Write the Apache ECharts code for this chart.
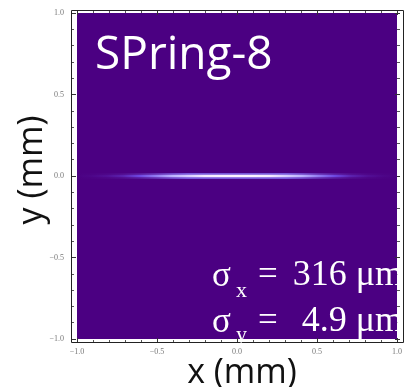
<!DOCTYPE html>
<html>
<head>
<meta charset="utf-8">
<script src="https://cdn.jsdelivr.net/npm/echarts@6/dist/echarts.min.js"></script>
<style>
  html, body { margin: 0; padding: 0; background: #fff; }
  #chart { width: 405px; height: 387px; }
</style>
</head>
<body>
<div id="chart"></div>
<script>
// beam profile along y = 0 (relative brightness)
const beamX = [-1.0, -0.9, -0.8, -0.7, -0.6, -0.5, -0.4, -0.3, -0.2, -0.1, 0.0,
               0.1, 0.2, 0.3, 0.4, 0.5, 0.6, 0.7, 0.8, 0.9, 1.0];
const beamY = [0, 0, 0, 0, 0, 0, 0, 0, 0, 0, 0, 0, 0, 0, 0, 0, 0, 0, 0, 0, 0];
const beamIntensity = [0.0, 0.01, 0.03, 0.07, 0.15, 0.28, 0.45, 0.63, 0.81, 0.95, 1.0,
                       0.95, 0.81, 0.63, 0.45, 0.28, 0.15, 0.07, 0.03, 0.01, 0.0];

const axisMin = -1;
const axisMax = 1;
const axisStep = 0.5;

const facilityName = "SPring-8";
const sigmaXText = "316 μm";
const sigmaYText = "4.9 μm";

// colour ramp: background purple -> violet -> lavender -> white
const rampStops = [
  [0.0, [75, 0, 130]],
  [0.15, [110, 70, 225]],
  [0.4, [180, 170, 255]],
  [0.8, [245, 235, 255]],
  [1.0, [252, 245, 255]]
];
function ramp(t) {
  for (let i = 1; i < rampStops.length; i++) {
    if (t <= rampStops[i][0]) {
      const a = rampStops[i - 1], b = rampStops[i];
      const f = (t - a[0]) / (b[0] - a[0]);
      const c = a[1].map((v, k) => Math.round(v + (b[1][k] - v) * f));
      return "rgb(" + c.join(",") + ")";
    }
  }
  return "rgb(252,245,255)";
}

const span = beamX[beamX.length - 1] - beamX[0];
const coreStops = beamX.map((x, i) => ({ offset: (x - beamX[0]) / span, color: ramp(beamIntensity[i]) }));
const haloStops = beamX.map((x, i) => ({
  offset: (x - beamX[0]) / span,
  color: "rgba(140,125,255," + Math.min(0.7, 1.2 * beamIntensity[i]).toFixed(3) + ")"
}));

const beamData = beamX.map((x, i) => [x, beamY[i]]);

const chart = echarts.init(document.getElementById("chart"));

const tickLabel = (v) => (v < 0 ? "\u2212" : "") + Math.abs(v).toFixed(1);

function frameAxis(position, offset, showLabel) {
  return {
    type: "value",
    min: axisMin,
    max: axisMax,
    interval: axisStep,
    position: position,
    offset: offset,
    axisLine: { show: false, onZero: false },
    axisTick: { show: true, inside: true, length: 5, lineStyle: { color: "#333", width: 1 } },
    minorTick: { show: true, splitNumber: 5, length: 3, lineStyle: { color: "#555", width: 1 } },
    splitLine: { show: false },
    axisLabel: {
      show: showLabel,
      formatter: tickLabel,
      fontFamily: "Liberation Serif",
      fontSize: 8,
      color: "#777",
      margin: position === "bottom" ? 5 : 7
    }
  };
}

const option = {
  animation: false,
  backgroundColor: "#fff",
  grid: {
    left: 77, right: 4, top: 13, bottom: 48,
    show: true, backgroundColor: "#4b0082", borderWidth: 0
  },
  xAxis: [frameAxis("bottom", 4, true), frameAxis("top", 3, false)],
  yAxis: [frameAxis("left", 6, true), frameAxis("right", 3, false)],
  series: [
    {
      type: "line",
      data: beamData,
      showSymbol: false,
      silent: true,
      z: 2,
      lineStyle: {
        width: 6,
        color: { type: "linear", x: 0, y: 0, x2: 1, y2: 0, colorStops: haloStops }
      }
    },
    {
      type: "line",
      data: beamData,
      showSymbol: false,
      silent: true,
      z: 3,
      lineStyle: {
        width: 2.5,
        color: { type: "linear", x: 0, y: 0, x2: 1, y2: 0, colorStops: coreStops }
      }
    }
  ],
  graphic: [
    {
      type: "rect", z: 10, silent: true,
      shape: { x: 71.5, y: 10.5, width: 332, height: 332 },
      style: { fill: "none", stroke: "#222", lineWidth: 1 }
    },
    {
      type: "text", x: 95, y: 56, z: 20,
      style: { text: facilityName, font: '46px "Open Sans"', fill: "#fff",
               align: "left", verticalAlign: "middle", textAlign: "left", textVerticalAlign: "middle" }
    },
    // sigma_x line
    { type: "text", x: 212, y: 277, z: 20,
      style: { text: "σ", font: '35px "Liberation Serif"', fill: "#fff", align: "left", verticalAlign: "middle" } },
    { type: "text", x: 236, y: 291, z: 20,
      style: { text: "x", font: '22px "Liberation Serif"', fill: "#fff", align: "left", verticalAlign: "middle" } },
    { type: "text", x: 258, y: 276, z: 20,
      style: { text: "=", font: '35px "Liberation Serif"', fill: "#fff", align: "left", verticalAlign: "middle" } },
    { type: "text", x: 403, y: 276, z: 20,
      style: { text: sigmaXText, font: '36px "Liberation Serif"', fill: "#fff", align: "right", verticalAlign: "middle" } },
    // sigma_y line
    { type: "text", x: 212, y: 323, z: 20,
      style: { text: "σ", font: '35px "Liberation Serif"', fill: "#fff", align: "left", verticalAlign: "middle" } },
    { type: "text", x: 236, y: 335, z: 20,
      style: { text: "y", font: '22px "Liberation Serif"', fill: "#fff", align: "left", verticalAlign: "middle" } },
    { type: "text", x: 258, y: 322, z: 20,
      style: { text: "=", font: '35px "Liberation Serif"', fill: "#fff", align: "left", verticalAlign: "middle" } },
    { type: "text", x: 403, y: 322, z: 20,
      style: { text: sigmaYText, font: '36px "Liberation Serif"', fill: "#fff", align: "right", verticalAlign: "middle" } },
    // axis titles
    { type: "text", x: 32, y: 170, rotation: Math.PI / 2, z: 20,
      style: { text: "y (mm)", font: '34px "Open Sans"', fill: "#111", align: "center", verticalAlign: "middle" } },
    { type: "text", x: 242, y: 373, z: 20,
      style: { text: "x (mm)", font: '34px "Open Sans"', fill: "#111", align: "center", verticalAlign: "middle" } }
  ]
};

chart.setOption(option);
</script>
</body>
</html>
